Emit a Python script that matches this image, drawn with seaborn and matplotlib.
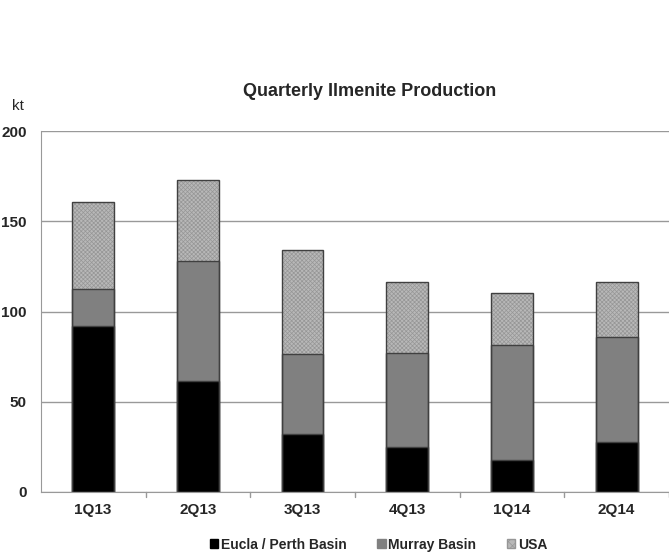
import pandas as pd
import matplotlib
matplotlib.use("Agg")
import matplotlib.pyplot as plt
import seaborn as sns
from matplotlib.patches import Patch

quarters = ["1Q13", "2Q13", "3Q13", "4Q13", "1Q14", "2Q14"]
eucla = [92, 61.5, 32, 25, 17.7, 27.7]
murray = [20.5, 66.5, 44.5, 52, 63.8, 58.3]
usa = [48, 45, 57.5, 39.5, 28.5, 30.5]

df = pd.DataFrame({"quarter": quarters, "eucla": eucla, "murray": murray, "usa": usa})
df["lvl1"] = df["eucla"]
df["lvl2"] = df["eucla"] + df["murray"]
df["lvl3"] = df["lvl2"] + df["usa"]

sns.set_style("white")
plt.rcParams["font.family"] = ["Liberation Sans", "DejaVu Sans"]
plt.rcParams["hatch.linewidth"] = 0.5

fig = plt.figure(figsize=(6.69, 5.57), dpi=100)
ax = fig.add_axes([0.061, 0.1167, 0.939, 0.648])

edge = "#404040"
usa_face = "#b8b8b8"
usa_hatch = "#969696"

# cumulative totals, drawn back to front
sns.barplot(data=df, x="quarter", y="lvl3", color=usa_face, width=0.4,
            saturation=1, ax=ax)
n = len(ax.patches)
for p in ax.patches[:n]:
    p.set_hatch("xxxxxxxx")
    p.set_edgecolor(usa_hatch)
    p.set_linewidth(0)
sns.barplot(data=df, x="quarter", y="lvl2", color="#808080", width=0.4,
            edgecolor=edge, linewidth=1, saturation=1, ax=ax)
sns.barplot(data=df, x="quarter", y="lvl1", color="#000000", width=0.4,
            edgecolor=edge, linewidth=1, saturation=1, ax=ax)
sns.barplot(data=df, x="quarter", y="lvl3", fill=False, width=0.4,
            edgecolor=edge, linewidth=1, ax=ax)

ax.set_ylim(0, 200)
ax.set_xlim(-0.5, 5.5)
ax.set_yticks([0, 50, 100, 150, 200])
ax.yaxis.grid(True, color="#999999", linewidth=1)
ax.set_axisbelow(True)
for s in ["top", "right"]:
    ax.spines[s].set_visible(False)
ax.spines["left"].set_color("#999999")
ax.spines["bottom"].set_color("#999999")
ax.set_xlabel("")
ax.set_ylabel("")
ax.set_xticks(range(6))
ax.set_xticklabels(quarters, fontsize=11, fontweight="bold")
ax.tick_params(axis="x", length=0, pad=8)
ax.tick_params(axis="y", labelsize=11, length=4, color="#999999", pad=6)
for t in ax.get_yticklabels():
    t.set_fontweight("bold")
for b in [0.5, 1.5, 2.5, 3.5, 4.5, 5.5]:
    ax.plot([b, b], [0, -3], color="#999999", lw=1, clip_on=False)

fig.text(0.018, 0.803, "kt", fontsize=11)
fig.text(0.552, 0.827, "Quarterly Ilmenite Production", fontsize=13,
         fontweight="bold", ha="center")

handles = [Patch(facecolor="#000000", edgecolor="#000000", label="Eucla / Perth Basin"),
           Patch(facecolor="#808080", edgecolor="#808080", label="Murray Basin"),
           Patch(facecolor=usa_face, edgecolor=usa_hatch, hatch="xxxx", label="USA")]
fig.legend(handles=handles, loc="center", bbox_to_anchor=(0.566, 0.022), ncol=3,
           frameon=False, prop={"weight": "bold", "size": 10}, handlelength=0.6,
           handleheight=0.6, handletextpad=0.2, columnspacing=2.2)

fig.savefig("out.png", dpi=100)
